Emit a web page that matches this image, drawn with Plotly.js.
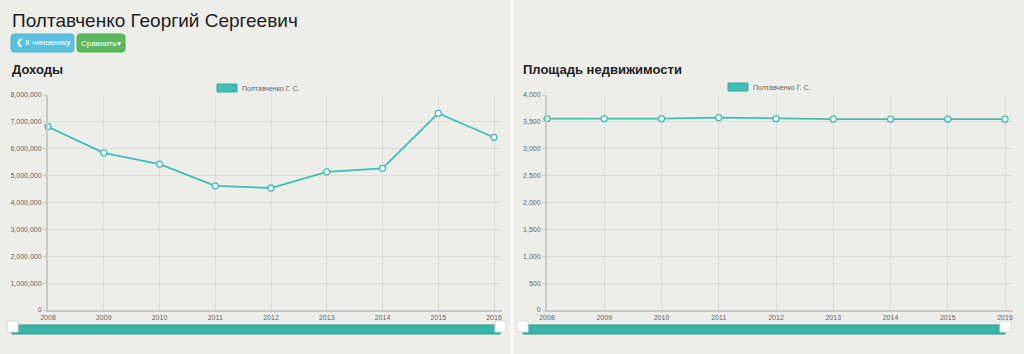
<!DOCTYPE html>
<html>
<head>
<meta charset="utf-8">
<script src="https://cdn.plot.ly/plotly-3.0.1.min.js"></script>
<style>
html,body{margin:0;padding:0;background:#edede9;}
#chart{width:1024px;height:354px;}
</style>
</head>
<body>
<div id="chart"></div>
<script>
// ---- data ----
const years = [2008, 2009, 2010, 2011, 2012, 2013, 2014, 2015, 2016];
const income = [6820000, 5850000, 5430000, 4620000, 4540000, 5140000, 5270000, 7320000, 6420000];
const area = [3560, 3560, 3560, 3580, 3560, 3550, 3550, 3550, 3550];
const seriesName = "Полтавченко Г. С.";
const pageTitle = "Полтавченко Георгий Сергеевич";
const chartTitles = ["Доходы", "Площадь недвижимости"];
const buttonLabels = ["<b>❮</b> К чиновнику", "Сравнить▾"];
const incomeTicks = [0, 1000000, 2000000, 3000000, 4000000, 5000000, 6000000, 7000000, 8000000];
const areaTicks = [0, 500, 1000, 1500, 2000, 2500, 3000, 3500, 4000];

// ---- helpers ----
const W = 1024, H = 354;
const px = x => x / W;
const py = y => 1 - y / H;
const TEAL = "#3dbfb6";
const FONT = "Liberation Sans, Arial, sans-serif";

const traceStyle = {
  mode: "lines+markers",
  line: {color: TEAL, width: 1.8},
  marker: {color: "#ffffff", size: 6, line: {color: TEAL, width: 1.3}},
  cliponaxis: false,
  hoverinfo: "x+y",
  showlegend: false
};

const data = [
  Object.assign({x: years, y: income, xaxis: "x", yaxis: "y", name: seriesName}, traceStyle),
  Object.assign({x: years, y: area, xaxis: "x2", yaxis: "y2", name: seriesName}, traceStyle)
];

function xAxis(domain, range) {
  return {
    domain: domain, range: range, tickvals: years, ticktext: years.map(String),
    showgrid: true, gridcolor: "#dcdcd8", gridwidth: 1,
    zeroline: false, showline: true, linecolor: "#c9c9c5", linewidth: 2,
    ticks: "", tickfont: {family: FONT, size: 7, color: "#666666"},
    fixedrange: true
  };
}
function yAxis(domain, range, ticks) {
  return {
    domain: domain, range: range, tickvals: ticks, tickformat: ",d",
    showgrid: true, gridcolor: "#dcdcd8", gridwidth: 1,
    zeroline: false, showline: true, linecolor: "#c9c9c5", linewidth: 2,
    ticks: "outside", ticklen: 3, tickcolor: "#c9c9c5",
    tickfont: {family: FONT, size: 7, color: "#666666"},
    fixedrange: true
  };
}

function roundRect(x0, y0, x1, y1, r) {
  // pixel coords -> paper path
  const X = v => px(v), Y = v => py(v);
  return "M" + X(x0 + r) + "," + Y(y0) +
    " L" + X(x1 - r) + "," + Y(y0) +
    " Q" + X(x1) + "," + Y(y0) + " " + X(x1) + "," + Y(y0 + r) +
    " L" + X(x1) + "," + Y(y1 - r) +
    " Q" + X(x1) + "," + Y(y1) + " " + X(x1 - r) + "," + Y(y1) +
    " L" + X(x0 + r) + "," + Y(y1) +
    " Q" + X(x0) + "," + Y(y1) + " " + X(x0) + "," + Y(y1 - r) +
    " L" + X(x0) + "," + Y(y0 + r) +
    " Q" + X(x0) + "," + Y(y0) + " " + X(x0 + r) + "," + Y(y0) + " Z";
}

const yDom = [py(310), py(95)];

const shapes = [
  // divider
  {type: "rect", xref: "paper", yref: "paper", x0: px(510), x1: px(514), y0: 0, y1: 1,
   fillcolor: "#f7f7f5", line: {width: 0}, layer: "below"},
  // buttons
  {type: "path", xref: "paper", yref: "paper", path: roundRect(11, 34, 74, 52, 3),
   fillcolor: "#5bc0de", line: {color: "#46b8da", width: 1}},
  {type: "path", xref: "paper", yref: "paper", path: roundRect(77, 34, 125, 52, 3),
   fillcolor: "#5cb85c", line: {color: "#4cae4c", width: 1}},
  // legend swatches
  {type: "rect", xref: "paper", yref: "paper", x0: px(217), x1: px(237), y0: py(92), y1: py(84),
   fillcolor: TEAL, line: {color: "#35aaa2", width: 1}},
  {type: "rect", xref: "paper", yref: "paper", x0: px(728), x1: px(748), y0: py(91), y1: py(83),
   fillcolor: TEAL, line: {color: "#35aaa2", width: 1}},
  // slider bars
  {type: "rect", xref: "paper", yref: "paper", x0: px(12), x1: px(500), y0: py(334), y1: py(325),
   fillcolor: "#3bb5a8", line: {color: "#2f9d92", width: 1}},
  {type: "rect", xref: "paper", yref: "paper", x0: px(523), x1: px(1005), y0: py(334), y1: py(325),
   fillcolor: "#3bb5a8", line: {color: "#2f9d92", width: 1}},
  // slider handles
  {type: "rect", xref: "paper", yref: "paper", x0: px(7), x1: px(18), y0: py(332), y1: py(321),
   fillcolor: "#ffffff", line: {color: "#d8d8d4", width: 1}},
  {type: "rect", xref: "paper", yref: "paper", x0: px(495), x1: px(506), y0: py(332), y1: py(321),
   fillcolor: "#ffffff", line: {color: "#d8d8d4", width: 1}},
  {type: "rect", xref: "paper", yref: "paper", x0: px(517), x1: px(528), y0: py(332), y1: py(321),
   fillcolor: "#ffffff", line: {color: "#d8d8d4", width: 1}},
  {type: "rect", xref: "paper", yref: "paper", x0: px(1000), x1: px(1011), y0: py(332), y1: py(321),
   fillcolor: "#ffffff", line: {color: "#d8d8d4", width: 1}}
];

const annotations = [
  {text: pageTitle, xref: "paper", yref: "paper", x: px(10), y: py(21), xanchor: "left", yanchor: "middle",
   showarrow: false, font: {family: FONT, size: 19, color: "#1e1e1e"}},
  {text: buttonLabels[0], xref: "paper", yref: "paper", x: px(42.5), y: py(43), xanchor: "center", yanchor: "middle",
   showarrow: false, font: {family: FONT, size: 8, color: "#ffffff"}},
  {text: buttonLabels[1], xref: "paper", yref: "paper", x: px(101), y: py(43), xanchor: "center", yanchor: "middle",
   showarrow: false, font: {family: FONT, size: 8, color: "#ffffff"}},
  {text: "<b>" + chartTitles[0] + "</b>", xref: "paper", yref: "paper", x: px(10), y: py(69), xanchor: "left", yanchor: "middle",
   showarrow: false, font: {family: FONT, size: 13, color: "#222"}},
  {text: "<b>" + chartTitles[1] + "</b>", xref: "paper", yref: "paper", x: px(521), y: py(69), xanchor: "left", yanchor: "middle",
   showarrow: false, font: {family: FONT, size: 13, color: "#222"}},
  {text: seriesName, xref: "paper", yref: "paper", x: px(240), y: py(88), xanchor: "left", yanchor: "middle",
   showarrow: false, font: {family: FONT, size: 7, color: "#666"}},
  {text: seriesName, xref: "paper", yref: "paper", x: px(751), y: py(87), xanchor: "left", yanchor: "middle",
   showarrow: false, font: {family: FONT, size: 7, color: "#666"}}
];

const layout = {
  width: W, height: H,
  margin: {l: 0, r: 0, t: 0, b: 0},
  paper_bgcolor: "#edede9",
  plot_bgcolor: "#edede9",
  showlegend: false,
  xaxis: xAxis([px(48), px(502)], [2008, 2008 + (502 - 48) / 55.75]),
  yaxis: yAxis(yDom, [0, 8000000], incomeTicks),
  xaxis2: xAxis([px(547), px(1013)], [2008, 2008 + (1013 - 547) / 57.25]),
  yaxis2: yAxis(yDom, [0, 4000], areaTicks),
  shapes: shapes,
  annotations: annotations
};
layout.xaxis2.anchor = "y2";
layout.yaxis2.anchor = "x2";

Plotly.newPlot("chart", data, layout, {displayModeBar: false});
</script>
</body>
</html>
